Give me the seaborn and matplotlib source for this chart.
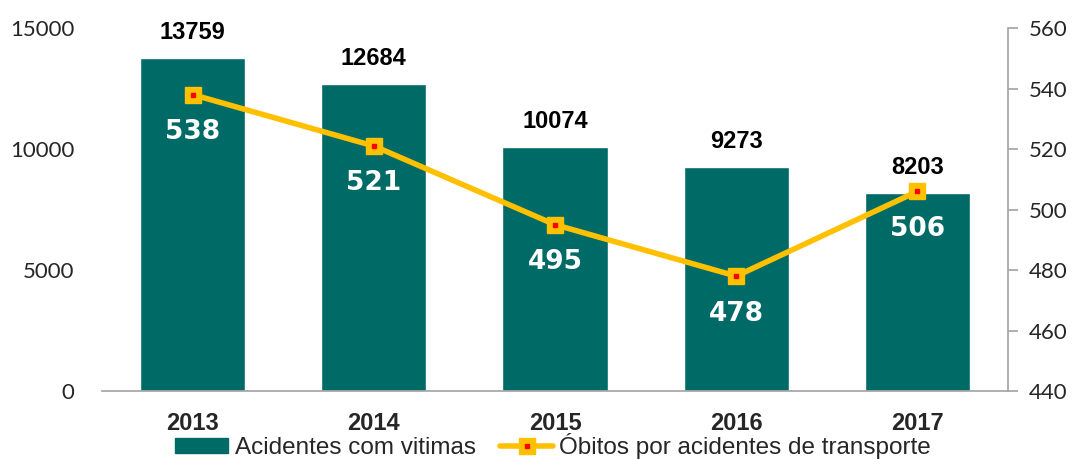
import matplotlib
matplotlib.use("Agg")
import matplotlib.pyplot as plt
import seaborn as sns
import pandas as pd
from matplotlib import font_manager
from matplotlib.lines import Line2D
from matplotlib.patches import Patch

# data
years = ["2013", "2014", "2015", "2016", "2017"]
acidentes = [13759, 12684, 10074, 9273, 8203]
obitos = [538, 521, 495, 478, 506]

bar_color = "#006A66"
line_color = "#FFC000"
grey = "#A6A6A6"

names = {f.name for f in font_manager.fontManager.ttflist}
labelfont = "Liberation Sans" if "Liberation Sans" in names else "DejaVu Sans"
tickfont = "Lato" if "Lato" in names else "DejaVu Sans"

sns.set_theme(style="white")
plt.rcParams["font.family"] = ["DejaVu Sans"]

df = pd.DataFrame({"Ano": years, "Acidentes": acidentes, "Obitos": obitos})

fig = plt.figure(figsize=(10.76, 4.59), dpi=100)
ax = fig.add_axes([0.0948, 0.148, 0.842, 0.791])

sns.barplot(ax=ax, data=df, x="Ano", y="Acidentes", color=bar_color,
            width=0.58, saturation=1)
ax.set_ylim(0, 15000)
ax.set_yticks([0, 5000, 10000, 15000])
ax.set_xlim(-0.5, len(years) - 0.5)
ax.set_xlabel("")
ax.set_ylabel("")
for s in ["left", "top", "right"]:
    ax.spines[s].set_visible(False)
ax.spines["bottom"].set_color(grey)
ax.tick_params(axis="y", length=0, pad=20, labelsize=16)
ax.tick_params(axis="x", length=0, pad=15)
for lbl in ax.get_yticklabels():
    lbl.set_family(tickfont)
for lbl in ax.get_xticklabels():
    lbl.set_family(labelfont)
    lbl.set_fontweight("bold")
    lbl.set_fontsize(17)

for i, v in enumerate(acidentes):
    ax.annotate(str(v), (i, v), xytext=(0, 10), textcoords="offset points",
                ha="center", va="bottom", fontsize=17, fontweight="bold",
                family=labelfont, color="black")

ax2 = ax.twinx()
xs = list(range(len(years)))
ax2.plot(xs, obitos, color=line_color, lw=4, marker="s", ms=11,
         mfc=line_color, mec=line_color, zorder=3)
ax2.plot(xs, obitos, ls="none", marker="s", ms=3, color="#FF0000", zorder=4)
ax2.set_ylim(440, 560)
ax2.set_yticks(range(440, 561, 20))
for s in ["left", "top", "bottom"]:
    ax2.spines[s].set_visible(False)
ax2.spines["right"].set_color(grey)
ax2.tick_params(axis="y", direction="out", length=7, color=grey, labelsize=16, pad=8)
for lbl in ax2.get_yticklabels():
    lbl.set_family(tickfont)

for i, v in enumerate(obitos):
    ax2.annotate(str(v), (i, v), xytext=(0, -27), textcoords="offset points",
                 ha="center", va="center", fontsize=19, fontweight="bold",
                 color="white")

# legend: bar patch, and gold line + square marker with a red centre
gold_handle = Line2D([0], [0], color=line_color, lw=4, marker="s", ms=11,
                     mfc=line_color, mec=line_color)
red_handle = Line2D([0], [0], ls="none", marker="s", ms=3, color="#FF0000")
handles = [Patch(facecolor=bar_color, edgecolor=bar_color), (gold_handle, red_handle)]
fig.legend(handles, ["Acidentes com vitimas", "Óbitos por acidentes de transporte"],
           loc="center", bbox_to_anchor=(0.514, 0.028), ncol=2, frameon=False,
           prop={"family": labelfont, "size": 17.5}, handlelength=2.2,
           handleheight=0.55, handletextpad=0.25, columnspacing=1.0,
           borderpad=0, borderaxespad=0)

fig.savefig("out.png", dpi=100)
